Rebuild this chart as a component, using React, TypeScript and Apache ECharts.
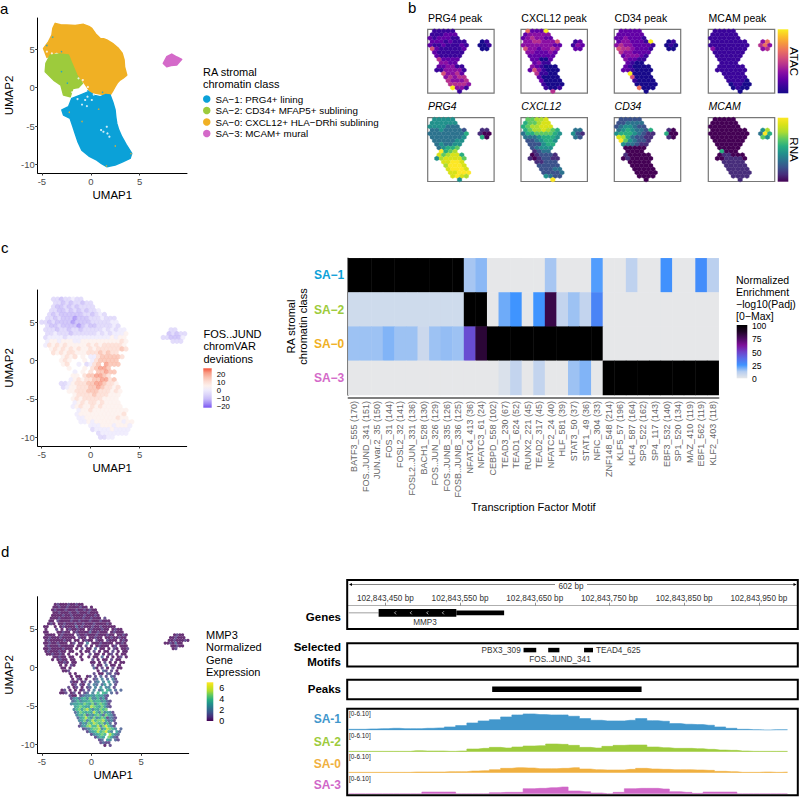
import React, { useEffect, useRef } from "react";
import * as echarts from "echarts";

const FONT = '"Liberation Sans", Arial, sans-serif';

// ---------- shared palettes ----------
const classColors = { sa1: "#0ba1d8", sa2: "#9dcb3c", sa0: "#f0b024", sa3: "#d46ac9" };
const plasma = ["#17098a", "#3a049a", "#6200a6", "#8a0fa3", "#b5308f", "#d4507a", "#ea7060", "#f59640", "#fbbf2a", "#f9ee21"];
const viridis = ["#440154", "#472d7b", "#3b528b", "#2c728e", "#21918c", "#28ae80", "#5ec962", "#addc30", "#d8e219", "#fde725"];
const devColors = ["#7a55f2", "#a48df5", "#c8bcf8", "#dcd5fa", "#eeeafc", "#fdf0ec", "#fcdcd2", "#fabfae", "#f89a84", "#f5533a"];
const heatColors = ["#e6e7e9", "#b5cdf0", "#3f94ff", "#5a6be8", "#6f3fc8", "#7d0f98", "#4a0a60", "#1f0426", "#000000"];

// ---------- panel a: class outlines in UMAP coordinates ----------
const sa0Outline = [[-3.64, 8.39], [-3.1, 8.2], [-2.45, 8.17], [-1.6, 8.1], [-0.75, 8.26], [-0.2, 8.0], [0.1, 7.74], [0.5, 7.0], [0.95, 6.43], [1.3, 6.4], [1.63, 6.22], [2.3, 5.7], [2.82, 5.13], [3.2, 4.5], [3.4, 3.61], [3.45, 2.7], [3.67, 1.65], [3.3, 1.25], [2.99, 1.0], [2.7, 0.6], [2.48, 0.13], [2.2, -0.5], [1.97, -0.96], [1.4, -0.9], [0.95, -0.83], [0.4, -0.7], [-0.07, -0.52], [-0.75, 0.78], [-1.43, 1.65], [-2.28, 3.61], [-3.47, 4.7], [-4.49, 3.96], [-4.83, 5.13], [-4.32, 6.0], [-3.98, 6.87], [-3.88, 7.74]];
const sa2Outline = [[-4.15, 4.26], [-3.2, 4.4], [-2.28, 4.26], [-1.94, 3.17], [-1.43, 1.65], [-0.85, 0.57], [-1.26, 0.04], [-1.84, -0.09], [-2.11, -1.17], [-2.79, -0.96], [-3.06, 0.35], [-3.81, 1.0], [-4.66, 2.09], [-4.59, 3.17]];
const sa1Outline = [[-0.24, -0.52], [0.4, -1.0], [0.95, -1.17], [1.5, -0.9], [1.97, -0.96], [2.25, -1.9], [2.48, -2.91], [2.55, -3.8], [2.65, -4.65], [2.85, -5.5], [3.16, -6.39], [3.6, -7.4], [4.18, -8.57], [4.01, -9.22], [3.2, -9.7], [2.48, -10.09], [1.63, -10.3], [1.1, -9.9], [0.61, -9.43], [-0.2, -8.9], [-0.92, -8.13], [-1.3, -7.1], [-1.6, -5.96], [-1.85, -5.0], [-2.11, -4.0], [-2.79, -3.57], [-2.96, -2.91], [-2.28, -2.48], [-1.94, -1.39], [-1.09, -0.96]];
const sa3Outline = [[7.76, 4.04], [8.27, 4.39], [8.8, 4.0], [9.29, 3.7], [8.78, 2.96], [8.2, 2.9], [7.76, 2.74], [7.41, 3.17]];
const gapPoints = [[-0.75, -0.3], [-1.16, -0.65], [-1.6, -0.39], [-0.34, -1.17], [-1.36, -1.48], [-0.58, -1.6], [0.1, -1.6], [1.29, -5.74], [1.7, -5.96], [1.9, -6.39], [1.05, -5.52], [1.63, -5.09], [-3.98, 4.48], [-4.49, 4.7], [-1.26, 1.22], [-0.82, 1.0], [-0.3, 0.1], [0.3, -0.9], [-1.9, -0.6], [-0.9, -2.2], [-0.4, -2.4]];
const strayOrange = [[-2.2, -3.2], [-0.9, -4.4], [1.6, -10.2], [2.5, -7.6], [0.8, -2.8], [4.1, -8.6]];
const strayBlue = [[-4.5, 5.5], [-3, 4.7], [-3, 2.1], [-2.4, 0.6], [-0.3, -0.4], [1.2, -0.6], [-3.9, 6.6]];

// ---------- panel b: hexbin summaries, one digit per hexagon, rows top to bottom ----------
const hexPrg4Peak = [".11111.........", "111222.........", "2122211........", "22212111...01..", "211211121..001.", "52111112...00..", ".2111111.......", ".211111........", "..42222........", "..3322.........", "..223311.......", ".1133331.......", "...53342.......", "...34344.......", "....43334......", "....44443......", ".....9331......", "......1........"];
const hexCxcl12Peak = [".62229.........", "233333.........", "2343322........", "33443335...12..", "333333322..132.", "53323343...22..", ".3322232.......", ".222222........", "..22002........", "..2311.........", "..321000.......", ".2531000.......", "...41100.......", "...20000.......", "....20000......", "....10000......", ".....1001......", "......4........"];
const hexCd34Peak = [".22222.........", "222222.........", "2232221........", "23322219...01..", "343322221..010.", "54432221...00..", ".4332222.......", ".233321........", "..32211........", "..2100.........", "..210000.......", ".2210000.......", "...90000.......", "...50000.......", "....10000......", "....00000......", ".....6000......", "......0........"];
const hexMcamPeak = [".11111.........", "111111.........", "1111111........", "11111111...36..", "111111111..463.", "31111111...34..", ".1111111.......", ".111111........", "..11111........", "..1111.........", "..111111.......", ".1111111.......", "...11111.......", "...11111.......", "....11110......", "....01100......", ".....0100......", "......0........"];
const hexPrg4Rna = [".44444.........", "444444.........", "4444333........", "33433332...11..", "333333335..100.", "33333334...50..", ".3333344.......", ".343344........", "..34556........", "..9567.........", "..867885.......", ".4788886.......", "...88998.......", "...79998.......", "....89998......", "....88999......", ".....8987......", "......4........"];
const hexCxcl12Rna = [".66778.........", "566788.........", "5677888........", "56778765...33..", "355666654..421.", "33345554...32..", ".2234554.......", ".222455........", "..23444........", "..1233.........", "..012221.......", ".1012211.......", "...11222.......", "...22222.......", "....22233......", "....22223......", ".....4322......", "......9........"];
const hexCd34Rna = [".22222.........", "223333.........", "2344322........", "34543325...10..", "455543211..500.", "87532211...10..", ".9643221.......", ".433211........", "..00000........", "..0000.........", "..100000.......", ".0100000.......", "...00000.......", "...00000.......", "....00000......", "....00000......", ".....0000......", "......0........"];
const hexMcamRna = [".00000.........", "000000.........", "0000000........", "00000000...47..", "000000000..395.", "00000000...64..", ".0000000.......", ".000000........", "..00000........", "..5000.........", "..011000.......", ".0011110.......", "...11111.......", "...11111.......", "....11111......", "....11111......", ".....1111......", "......1........"];

// ---------- panel c: chromVAR deviations, digit per cell, rows from the top of the cloud downward ----------
const fosJundRows = [
  "   33233433",
  "   3323233233",
  "   32232323333",
  "  3322323232334",
  "  323222222332343",
  " 332322212223334333",
  "33232222122223333344",
  " 3223222212322333343",
  " 333233233233333434344",
  " 334333233333343434445",
  " 344443444444444445455",
  " 455455544555555555565",
  " 465656555556565666665",
  "  56565656556566666676",
  "   65656655566676766",
  "     5656 5 446777776",
  "     565   5 4677777",
  "     56  4 3467 8777",
  "       5   5 67887",
  "        4 5 6 77877",
  "        55 6778876",
  "       456566778867",
  "     334566677887665",
  "     345566677876656",
  "       55666777666565",
  "        566667666555",
  "        565666665555",
  "        456566565555",
  "        4565565655555",
  "         4556555555555",
  "         4555555555556",
  "         4455555555655",
  "          44545555555455",
  "            44455545554",
  "             3444454444",
  "              34444444",
  "               3344",
];
const fosJundIsland = ["  33 ", " 23233", "332224", "  333 "];

// ---------- panel d: MMP3 expression, digit per cell, finer rows from the top of the cloud downward ----------
const mmp3Rows = [
  "     01000100100",
  "    0010010000100 0",
  "    01000100010010100",
  "    00100010010001000",
  "    000010010000100010",
  "   0001000010001001000 1",
  "   00 10000100100010001000",
  "  010 00100010010001000010",
  " 00  0 010000201000100100000",
  " 0   1 0 0100100 01000100 0100",
  " 00   00100 0100002001000 01000",
  " 0000 010000 10010001000100 0010",
  " 001000100000 100 00100 00100100",
  " 0100000100 00 0100 100 1000 010",
  " 001001000 01 00 3 00010000 0010",
  " 01000100000 00 1 0 01000 01 000",
  " 00100001000 0 1 00 2 00 0 10 001",
  " 01000100 00  0 00 1 0 00 1 0 00",
  "  0010010 0  0 0  1 00 0 01 0 00",
  "    00100 00  0  0 00 2 0 0 01 0",
  "    0 0100 00  0   1 0 00 1 00",
  "      0010 00     00 0 1 0 0 00",
  "       0 0 10      1 00 2 00 0",
  "       00 0        20 1 0 1 00",
  "        001          0 21 1 0",
  "          0 0      1 00 21 10",
  "           0 00  01 1 2 1 21",
  "           0 10 0  12 3 2 31",
  "           100 01 1 23 3 4 21",
  "           01 10 2 32 24 3 1",
  "          1 01 0 12 3 4 33 1",
  "       01 0 0 01 1 3 24 53 2 2",
  "       001 01 0 12 3 5 54 2 1",
  "          100 12334354421",
  "           13424536335241",
  "           235344564553421",
  "           344546546356531",
  "            45654476546421",
  "            3564675354656",
  "            246545475363431",
  "             354624356426431",
  "             245753634651321",
  "              34635756674231",
  "              243657656352 1",
  "              13467557368531",
  "               1235667357653 2",
  "                 1345756853 42",
  "                  134565 7532",
  "                    1354 6421",
  "                     12 43 21",
  "                      1211",
  "                       0 1",
];
const mmp3Island = ["   0100", "  001000", " 00100010", "0010200", "  00100", "   01"];

// ---------- panel c: heatmap ----------
const motifs = ["BATF3_555 (170)", "FOS..JUND_341 (151)", "JUN.var.2_35 (150)", "FOS_31 (144)", "FOSL2_32 (141)", "FOSL2..JUN_331 (136)", "BACH1_528 (130)", "FOS..JUN_326 (129)", "FOS..JUNB_335 (126)", "FOSB..JUNB_336 (125)", "NFATC4_413 (36)", "NFATC3_61 (24)", "CEBPD_558 (102)", "TEAD3_230 (67)", "TEAD1_624 (52)", "RUNX2_221 (45)", "TEAD2_317 (45)", "NFATC2_24 (40)", "HLF_581 (39)", "STAT3_50 (37)", "STAT1_49 (36)", "NFIC_304 (33)", "ZNF148_548 (214)", "KLF5_57 (196)", "KLF4_587 (164)", "SP3_522 (162)", "SP4_117 (143)", "EBF3_532 (140)", "SP1_520 (134)", "MAZ_410 (119)", "EBF1_562 (119)", "KLF2_403 (118)"];
const heatClasses = ["SA\u22121", "SA\u22122", "SA\u22120", "SA\u22123"];
const heatClassColors = [classColors.sa1, classColors.sa2, classColors.sa0, classColors.sa3];
const enrichSA1 = [100, 100, 100, 100, 100, 100, 100, 100, 100, 100, 14, 17, 0, 0, 0, 0, 0, 14, 0, 0, 0, 23, 0, 0, 10, 0, 0, 26, 0, 0, 27, 11];
const enrichSA2 = [6, 6, 6, 6, 6, 6, 6, 6, 6, 6, 100, 100, 0, 20, 25, 0, 25, 80, 9, 15, 9, 30, 0, 0, 0, 0, 0, 0, 0, 0, 0, 0];
const enrichSA0 = [15, 15, 15, 18, 15, 15, 7, 15, 16, 15, 46, 84, 100, 100, 100, 100, 100, 100, 100, 100, 100, 100, 0, 0, 0, 0, 0, 0, 0, 0, 0, 0];
const enrichSA3 = [0, 0, 0, 0, 0, 0, 0, 0, 0, 0, 0, 0, 0, 3, 9, 0, 9, 0, 0, 15, 18, 0, 100, 100, 100, 100, 100, 100, 100, 100, 100, 100];
const enrichRows = [enrichSA1, enrichSA2, enrichSA0, enrichSA3];

// ---------- panel d: genome tracks (bp) ----------
const genomeStart = 102843400;
const genomeEnd = 102844002;
const genomeTicks = [102843450, 102843550, 102843650, 102843750, 102843850, 102843950];
const geneLine = [102843401, 102843441];
const geneCds = [102843441, 102843545];
const geneUtr = [102843545, 102843609];
const geneChevrons = [102843463, 102843484, 102843506, 102843527];
const motifBlocks = [[102843635, 102843652], [102843668, 102843683], [102843716, 102843728]];
const peakBlock = [102843593, 102843793];
const covBinWidth = 15.06;
const covSA1 = [0.29, 0.29, 0.39, 0.48, 0.58, 0.48, 0.48, 0.58, 0.68, 0.97, 1.36, 2.13, 2.72, 3.1, 3.88, 4.46, 4.75, 4.56, 4.46, 4.46, 4.07, 3.4, 2.91, 2.72, 2.72, 2.91, 3.4, 2.81, 2.62, 1.94, 1.75, 1.65, 1.46, 0.97, 0.58, 0.29, 0.19, 0.1, 0.19, 0.19];
const covSA2 = [0.1, 0.1, 0.1, 0.1, 0.1, 0.1, 0.29, 0.19, 0.19, 0.1, 0.19, 0.78, 0.97, 1.26, 1.07, 1.36, 1.65, 1.75, 2.23, 2.13, 1.84, 1.26, 1.07, 1.55, 1.84, 1.94, 1.94, 1.36, 1.16, 0.97, 0.97, 0.87, 0.68, 0.48, 0.39, 0.19, 0.1, 0.1, 0.1, 0.1];
const covSA0 = [0.1, 0.1, 0.1, 0.1, 0.1, 0.1, 0.19, 0.19, 0.19, 0.29, 0.29, 0.48, 0.58, 0.87, 1.26, 1.46, 1.36, 1.16, 1.16, 1.26, 1.46, 1.07, 0.87, 0.78, 0.78, 0.97, 1.26, 1.07, 0.97, 0.87, 0.87, 0.78, 0.68, 0.39, 0.29, 0.1, 0.1, 0.19, 0.1, 0.19];
const covSA3 = [0, 0, 0, 0, 0, 0, 0, 0.48, 0.48, 0.48, 0, 0, 0, 0.29, 0.39, 0.39, 1.46, 1.55, 1.75, 1.94, 0.78, 0.58, 0.19, 0, 0.39, 1.46, 1.55, 1.55, 1.36, 0.58, 0.39, 0.1, 0.48, 0.48, 0.48, 0, 0, 0, 0, 0];

// ---------- helpers ----------
function text(t: string, x: number, y: number, o: any = {}) {
  return {
    type: "text", x, y, rotation: o.rotation || 0, silent: true, z: 20,
    style: {
      text: t, fontSize: o.size || 11, fontFamily: FONT, fontWeight: o.weight || "normal", fontStyle: o.style || "normal",
      fill: o.color || "#000", textAlign: o.align || "left", textVerticalAlign: "middle",
    },
  };
}
function colorbar(x: number, y: number, w: number, h: number, lowToHigh: string[]) {
  const n = lowToHigh.length - 1;
  return {
    type: "rect", silent: true, shape: { x, y, width: w, height: h },
    style: {
      fill: new echarts.graphic.LinearGradient(0, 1, 0, 0, lowToHigh.map((color, i) => ({ offset: i / n, color }))),
    },
  };
}
function box(x: number, y: number, w: number, h: number) {
  return { type: "rect", silent: true, z: 15, shape: { x, y, width: w, height: h }, style: { fill: "none", stroke: "#000", lineWidth: 2 } };
}
// g: layout of a digit map in UMAP units (origin, step, island origin)
function umapCells(rows: string[], island: string[], g: any) {
  const out: number[][] = [];
  const put = (row: string, r: number, c0: number, r0: number) => {
    [...row].forEach((ch, c) => {
      if (ch === " ") return;
      const rr = r + r0;
      out.push([g.x0 + g.dx * (c + c0) + (rr % 2 ? g.dx / 2 : 0), g.y0 - g.dy * rr, Number(ch)]);
    });
  };
  rows.forEach((row, r) => put(row, r, 0, 0));
  island.forEach((row, r) => put(row, r, g.islandCol, g.islandRow));
  return out;
}
function hexCells(rows: string[]) {
  const out: number[][] = [];
  rows.forEach((row, r) => {
    [...row].forEach((ch, c) => {
      if (ch !== ".") out.push([c + 0.5 + (r % 2 ? 0.5 : 0), r + 0.5, Number(ch)]);
    });
  });
  return out;
}
function polygonSeries(name: string, pts: number[][], color: string) {
  return {
    type: "custom", name, data: pts, silent: true, clip: false, itemStyle: { color },
    encode: { x: 0, y: 1 },
    renderItem: (params: any, api: any) => {
      if (params.dataIndex !== 0) return null;
      return {
        type: "polygon",
        shape: { points: pts.map((p) => api.coord(p)) },
        style: { fill: color, stroke: color, lineWidth: 1.5, lineJoin: "round" },
      };
    },
  };
}
function hexSeries(rows: string[], palette: string[]) {
  return {
    type: "custom", data: hexCells(rows), silent: true, encode: { x: 0, y: 1 },
    renderItem: (_p: any, api: any) => {
      const [cx, cy] = api.coord([api.value(0), api.value(1)]);
      const [sx, sy] = api.size([1, 1]);
      const hw = sx / 2, R = (sy * 2) / 3;
      return {
        type: "polygon",
        shape: { points: [[cx, cy - R], [cx + hw, cy - R / 2], [cx + hw, cy + R / 2], [cx, cy + R], [cx - hw, cy + R / 2], [cx - hw, cy - R / 2]] },
        style: { fill: palette[api.value(2)], stroke: palette[api.value(2)], lineWidth: 0.3 },
      };
    },
  };
}
function blockSeries(blocks: number[][], yc: number, h: number) {
  return {
    type: "custom", data: blocks, silent: true, encode: { x: [0, 1] },
    renderItem: (_p: any, api: any) => {
      const a = api.coord([api.value(0), yc]);
      const b = api.coord([api.value(1), yc]);
      return { type: "rect", shape: { x: a[0], y: a[1] - h / 2, width: b[0] - a[0], height: h }, style: { fill: "#000" } };
    },
  };
}
const hiddenGenomeAxis = (gridIndex: number) => ({ type: "value", gridIndex, min: genomeStart, max: genomeEnd, show: false });
const unitAxis = (gridIndex: number) => ({ type: "value", gridIndex, min: 0, max: 1, inverse: true, show: false });

function umapAxes(gridIndex: number, xr: number[], yr: number[]) {
  const common = {
    type: "value", gridIndex, nameLocation: "middle",
    nameTextStyle: { fontSize: 11.5, color: "#000", fontFamily: FONT },
    splitLine: { show: false },
  };
  return {
    x: {
      ...common, min: xr[0], max: xr[1], name: "UMAP1", nameGap: 16,
      axisLine: { show: true, onZero: false, lineStyle: { color: "#000", width: 1 } },
      axisTick: { show: true, length: 2.5, customValues: [-5, 0, 5], lineStyle: { color: "#333" } },
      axisLabel: { customValues: [-5, 0, 5], fontSize: 9.5, color: "#4d4d4d", margin: 3, fontFamily: FONT },
    },
    y: {
      ...common, min: yr[0], max: yr[1], name: "UMAP2", nameGap: 23,
      axisLine: { show: true, onZero: false, lineStyle: { color: "#000", width: 1 } },
      axisTick: { show: true, length: 2.5, customValues: [-10, -5, 0, 5], lineStyle: { color: "#333" } },
      axisLabel: { customValues: [-10, -5, 0, 5], fontSize: 9.5, color: "#4d4d4d", margin: 3, fontFamily: FONT },
    },
  };
}

function buildOption() {
  const grid: any[] = [], xAxis: any[] = [], yAxis: any[] = [], series: any[] = [];
  const add = (g: any, x: any, y: any, s: any[]) => {
    const i = grid.length;
    grid.push({ containLabel: false, ...g });
    xAxis.push(x(i));
    yAxis.push(y(i));
    s.forEach((one) => series.push({ ...one, xAxisIndex: i, yAxisIndex: i }));
  };
  const umap = (top: number, bottom: number, right: number, xr: number[], yr: number[], s: any[]) => {
    const i = grid.length;
    const ax = umapAxes(i, xr, yr);
    add({ left: 37.7, top, width: right - 37.7, height: bottom - top }, () => ax.x, () => ax.y, s);
  };

  // panel a
  const names = ["SA\u22121: PRG4+ lining", "SA\u22122: CD34+ MFAP5+ sublining", "SA\u22120: CXCL12+ HLA\u2212DRhi sublining", "SA\u22123: MCAM+ mural"];
  umap(18, 173, 187, [-5.43, 9.83], [-11.12, 9.09], [
    polygonSeries(names[2], sa0Outline, classColors.sa0),
    polygonSeries(names[0], sa1Outline, classColors.sa1),
    polygonSeries(names[1], sa2Outline, classColors.sa2),
    polygonSeries(names[3], sa3Outline, classColors.sa3),
    { type: "scatter", data: gapPoints, symbolSize: 2.2, silent: true, itemStyle: { color: "#fff" } },
    { type: "scatter", data: strayOrange, symbolSize: 1.6, silent: true, itemStyle: { color: classColors.sa0 } },
    { type: "scatter", data: strayBlue, symbolSize: 1.6, silent: true, itemStyle: { color: classColors.sa1 } },
  ]);

  // panel b
  const hexCols = [427.7, 521, 614.3, 708.3];
  const hexRowTop = [29.3, 117.7];
  const hexPanels = [
    [hexPrg4Peak, hexCxcl12Peak, hexCd34Peak, hexMcamPeak],
    [hexPrg4Rna, hexCxcl12Rna, hexCd34Rna, hexMcamRna],
  ];
  hexPanels.forEach((row, ri) =>
    row.forEach((rows, ci) => {
      add(
        { show: true, left: hexCols[ci], top: hexRowTop[ri], width: 66.4, height: 63.8, borderColor: "#777", borderWidth: 1.2, backgroundColor: "#fff" },
        (i: number) => ({ type: "value", gridIndex: i, min: 0, max: 14.6, show: false }),
        (i: number) => ({ type: "value", gridIndex: i, min: 0, max: 18, inverse: true, show: false }),
        [hexSeries(rows, ri === 0 ? plasma : viridis)]
      );
    })
  );

  // panel c UMAP
  umap(290, 446, 186.7, [-5.41, 9.8], [-11.15, 9.19], [
    {
      type: "scatter", symbolSize: 5.2, silent: true,
      data: umapCells(fosJundRows, fosJundIsland, { x0: -5, dx: 0.4, y0: 8, dy: 0.5, islandCol: 31, islandRow: 8 }),
      itemStyle: { color: (p: any) => devColors[p.value[2]] },
    },
  ]);

  // panel c heatmap
  const heatData: number[][] = [];
  enrichRows.forEach((row, r) => row.forEach((v, c) => heatData.push([c, r, v])));
  const heatSeriesIndex = series.length;
  add(
    { left: 348.3, top: 258.3, width: 370.4, height: 136.7 },
    (i: number) => ({
      type: "category", gridIndex: i, data: motifs, offset: 3, name: "Transcription Factor Motif", nameLocation: "middle", nameGap: 98,
      nameTextStyle: { fontSize: 11, color: "#000", fontFamily: FONT },
      axisLine: { lineStyle: { color: "#555", width: 1.5 } },
      axisTick: { length: 2.5, alignWithLabel: true, lineStyle: { color: "#555" } },
      axisLabel: { interval: 0, rotate: 90, fontSize: 9, color: "#666", margin: 3, fontFamily: FONT },
      splitLine: { show: false },
    }),
    (i: number) => ({
      type: "category", gridIndex: i, data: heatClasses, inverse: true, offset: 1,
      axisLine: { lineStyle: { color: "#555", width: 1.5 } },
      axisTick: { length: 2.5, alignWithLabel: true, lineStyle: { color: "#555" } },
      axisLabel: {
        fontSize: 12, fontWeight: "bold", margin: 3, fontFamily: FONT,
        color: (_v: any, idx: number) => heatClassColors[idx],
      },
      splitLine: { show: false },
    }),
    [{ type: "heatmap", data: heatData, silent: true, itemStyle: { borderWidth: 0 } }]
  );

  // panel d UMAP
  umap(596.7, 753.3, 188.7, [-5.42, 9.79], [-11.18, 9.2], [
    {
      type: "scatter", symbolSize: 3.2, silent: true,
      data: umapCells(mmp3Rows, mmp3Island, { x0: -5, dx: 0.27, y0: 8.2, dy: 0.36, islandCol: 46, islandRow: 11 }),
      itemStyle: { color: (p: any) => viridis[p.value[2]] },
    },
  ]);

  // genes track
  const gLeft = 348, gWidth = 449.7;
  add(
    { left: gLeft, top: 605.7, width: gWidth, height: 23 },
    (i: number) => ({
      type: "value", gridIndex: i, min: genomeStart, max: genomeEnd, position: "top",
      axisLine: { show: true, onZero: false, lineStyle: { color: "#999", width: 0.8 } },
      axisTick: { show: true, length: 3, customValues: genomeTicks, lineStyle: { color: "#777", width: 0.8 } },
      axisLabel: {
        customValues: genomeTicks, fontSize: 8.2, color: "#333", margin: 3, fontFamily: FONT,
        formatter: (v: number) => `${v.toLocaleString("en-US")} bp`,
      },
      splitLine: { show: false },
    }),
    unitAxis,
    [
      {
        type: "custom", data: [geneLine], silent: true, encode: { x: [0, 1] },
        renderItem: (_p: any, api: any) => {
          const a = api.coord([api.value(0), 0.31]);
          const b = api.coord([api.value(1), 0.31]);
          return { type: "line", shape: { x1: a[0], y1: a[1], x2: b[0], y2: b[1] }, style: { stroke: "#888", lineWidth: 0.8 } };
        },
      },
      blockSeries([geneCds], 0.31, 7.6),
      blockSeries([geneUtr], 0.31, 4.6),
      {
        type: "custom", data: geneChevrons.map((v) => [v]), silent: true, encode: { x: 0 },
        renderItem: (_p: any, api: any) => {
          const a = api.coord([api.value(0), 0.31]);
          return {
            type: "polyline",
            shape: { points: [[a[0] + 1, a[1] - 1.5], [a[0] - 0.5, a[1]], [a[0] + 1, a[1] + 1.5]] },
            style: { stroke: "#fff", fill: "none", lineWidth: 0.7 },
          };
        },
      },
    ]
  );

  // motifs track
  add({ left: gLeft, top: 643.7, width: gWidth, height: 22 }, hiddenGenomeAxis, unitAxis, [blockSeries(motifBlocks, 0.29, 4.5)]);
  // peaks track
  add({ left: gLeft, top: 680.3, width: gWidth, height: 18 }, hiddenGenomeAxis, unitAxis, [blockSeries([peakBlock], 0.5, 5.5)]);

  // coverage tracks
  const covTracks = [
    { values: covSA1, color: "#4297cc", base: 730.3 },
    { values: covSA2, color: "#9dcb3c", base: 751.7 },
    { values: covSA0, color: "#f0b040", base: 772.7 },
    { values: covSA3, color: "#d067c8", base: 793.7 },
  ];
  covTracks.forEach((t) => {
    add(
      { left: gLeft, top: t.base - 21, width: gWidth, height: 21 },
      hiddenGenomeAxis,
      (i: number) => ({ type: "value", gridIndex: i, min: 0, max: 6.1, show: false }),
      [
        {
          type: "line", step: "middle", symbol: "none", silent: true,
          data: t.values.map((v, k) => [genomeStart + 1 + covBinWidth * k, v]),
          lineStyle: { color: t.color, width: 0.6 },
          areaStyle: { color: t.color, opacity: 1 },
        },
      ]
    );
  });

  const graphic: any[] = [
    text("a", 0, 8, { size: 15 }), text("b", 408, 7, { size: 15 }), text("c", 1, 247, { size: 15 }), text("d", 1, 551, { size: 15 }),
    text("RA stromal", 203, 71.5, { size: 11 }), text("chromatin class", 203, 83.5, { size: 11 }),
  ];
  // panel b titles
  ["PRG4 peak", "CXCL12 peak", "CD34 peak", "MCAM peak"].forEach((t, i) => graphic.push(text(t, hexCols[i] + 0.3, 18, { size: 10.5 })));
  ["PRG4", "CXCL12", "CD34", "MCAM"].forEach((t, i) => graphic.push(text(t, hexCols[i] + 0.3, 106, { size: 10.5, style: "italic" })));
  graphic.push(colorbar(777.7, 29.3, 10.6, 64, plasma), colorbar(777.7, 117.7, 10.6, 64, viridis));
  graphic.push(text("ATAC", 793.8, 61.5, { size: 11.5, rotation: -Math.PI / 2, align: "center" }));
  graphic.push(text("RNA", 793.8, 149.5, { size: 11.5, rotation: -Math.PI / 2, align: "center" }));

  // panel c legend
  ["FOS..JUND", "chromVAR", "deviations"].forEach((t, i) => graphic.push(text(t, 203.5, 334 + 12.3 * i, { size: 11 })));
  graphic.push(colorbar(203.3, 368.3, 8.4, 39.4, devColors));
  ["20", "10", "0", "\u221210", "\u221220"].forEach((t, i) => graphic.push(text(t, 216.7, 374.3 + 7.95 * i, { size: 7.8 })));

  // heatmap y title
  graphic.push(text("RA stromal", 291, 326.5, { size: 11, rotation: Math.PI / 2, align: "center" }));
  graphic.push(text("chromatin class", 303, 326.5, { size: 11, rotation: Math.PI / 2, align: "center" }));
  ["Normalized", "Enrichment", "\u2212log10(Padj)", "[0\u2212Max]"].forEach((t, i) => graphic.push(text(t, 736, 280 + 12 * i, { size: 10.5 })));
  graphic.push(colorbar(736.7, 325, 10.6, 53.3, heatColors));
  ["100", "75", "50", "25", "0"].forEach((t, i) => graphic.push(text(t, 752, 326 + 13.25 * i, { size: 8.6 })));

  // panel d legend
  ["MMP3", "Normalized", "Gene", "Expression"].forEach((t, i) => graphic.push(text(t, 206, 635 + 12.3 * i, { size: 11 })));
  graphic.push(colorbar(206.7, 682.3, 6.6, 38.7, viridis));
  ["6", "4", "2", "0"].forEach((t, i) => graphic.push(text(t, 219.3, 688.3 + 10.9 * i, { size: 9 })));

  // tracks
  graphic.push(box(347.2, 580, 450.6, 49), box(347.2, 643.2, 450.6, 23.4), box(347.2, 679.8, 450.6, 19.4), box(347.2, 708.8, 450.6, 86.4));
  graphic.push(
    { type: "line", silent: true, shape: { x1: 350, y1: 584.5, x2: 555, y2: 584.5 }, style: { stroke: "#333", lineWidth: 0.6 } },
    { type: "line", silent: true, shape: { x1: 587, y1: 584.5, x2: 796, y2: 584.5 }, style: { stroke: "#333", lineWidth: 0.6 } },
    { type: "polygon", silent: true, shape: { points: [[349, 584.5], [352, 583], [352, 586]] }, style: { fill: "#000" } },
    { type: "polygon", silent: true, shape: { points: [[796.5, 584.5], [793.5, 583], [793.5, 586]] }, style: { fill: "#000" } }
  );
  graphic.push(text("602 bp", 571, 586, { size: 8.2, align: "center", color: "#333" }));
  graphic.push(text("MMP3", 425, 622.7, { size: 8.2, align: "center", color: "#333" }));
  graphic.push(text("PBX3_309", 520.7, 650, { size: 8.2, align: "right", color: "#333" }));
  graphic.push(text("TEAD4_625", 596, 650, { size: 8.2, color: "#333" }));
  graphic.push(text("FOS..JUND_341", 560, 659.5, { size: 8.2, align: "center", color: "#333" }));
  const trackLabel = { size: 11.5, weight: "bold", align: "right" };
  graphic.push(text("Genes", 341, 617.3, trackLabel), text("Selected", 341, 647.3, trackLabel), text("Motifs", 341, 662.3, trackLabel), text("Peaks", 341, 689, trackLabel));
  ["SA-1", "SA-2", "SA-0", "SA-3"].forEach((t, i) => {
    graphic.push(text(t, 341, [719.3, 741.7, 763.7, 785][i], { size: 12, weight: "bold", align: "right", color: covTracks[i].color }));
    graphic.push(text("[0-6.10]", 349, [713.3, 735.7, 756.7, 778][i], { size: 6.4, color: "#222" }));
  });

  return {
    animation: false,
    backgroundColor: "#fff",
    textStyle: { fontFamily: FONT },
    legend: {
      data: names, left: 203, top: 94, orient: "vertical", icon: "circle", itemWidth: 7.5, itemHeight: 7.5, itemGap: 1.5,
      selectedMode: false, padding: 0,
      textStyle: { fontSize: 9.8, color: "#000", fontFamily: FONT, lineHeight: 7.5 },
    },
    visualMap: {
      show: false, seriesIndex: heatSeriesIndex, min: 0, max: 100, dimension: 2, inRange: { color: heatColors },
    },
    grid, xAxis, yAxis, series, graphic,
  };
}

export default function App() {
  const ref = useRef<HTMLDivElement>(null);
  useEffect(() => {
    const chart = echarts.init(ref.current as HTMLDivElement, undefined, { renderer: "svg" });
    chart.setOption(buildOption() as any);
    return () => chart.dispose();
  }, []);
  return (
    <>
      <style>{"body{margin:0}"}</style>
      <div ref={ref} style={{ width: 800, height: 797 }} />
    </>
  );
}
